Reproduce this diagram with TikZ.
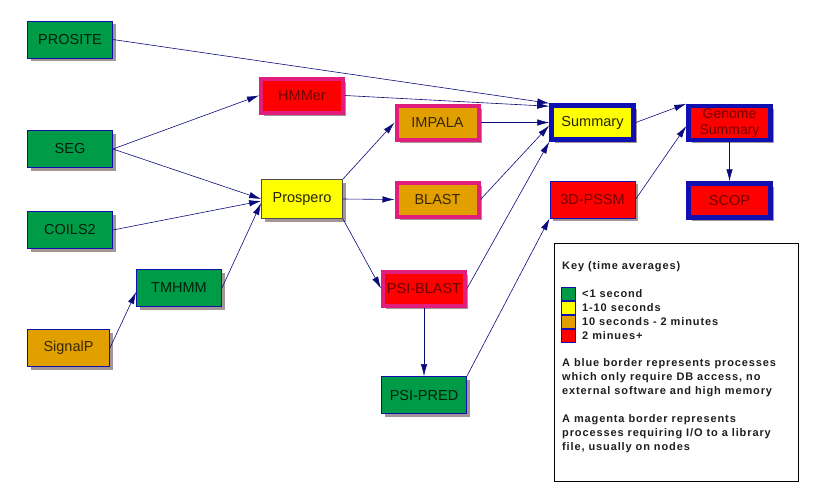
\documentclass[tikz,border=0pt]{standalone}
\usepackage{fontspec}
\setmainfont{Liberation Sans}
\newfontfamily\keyfont[LetterSpace=8]{Liberation Sans}
\usetikzlibrary{arrows.meta,shadows}

\definecolor{fastgreen}{RGB}{0,155,70}
\definecolor{midyellow}{RGB}{255,255,0}
\definecolor{slowamber}{RGB}{225,160,0}
\definecolor{slowred}{RGB}{255,0,0}
\definecolor{dbblue}{RGB}{16,16,176}
\definecolor{libmagenta}{RGB}{225,30,125}
\definecolor{edgeblue}{RGB}{10,10,125}
\definecolor{shadowgrey}{RGB}{165,150,150}
\definecolor{keyink}{RGB}{30,30,30}

\tikzset{
  proc/.style={draw=dbblue, line width=0.8pt, minimum width=85pt, minimum height=37pt,
    inner sep=1pt, align=center, font=\fontsize{14.5}{16}\selectfont,
    drop shadow={shadow xshift=3pt, shadow yshift=-3pt, fill=shadowgrey, opacity=1}},
  dbproc/.style={proc, line width=4.5pt, minimum width=82pt, minimum height=34pt},
  libproc/.style={proc, draw=libmagenta, line width=4pt, minimum width=82pt, minimum height=34pt},
  secs/.style={fill=fastgreen, text=fastgreen!20!black},
  tens/.style={fill=midyellow, text=midyellow!15!black},
  mins/.style={fill=slowamber, text=slowamber!25!black},
  long/.style={fill=slowred, text=slowred!45!black},
  flow/.style={draw=edgeblue, line width=0.6pt, -{Latex[length=12pt,width=6.5pt]}},
  keybox/.style={draw=black, line width=0.8pt, minimum width=244pt, minimum height=238pt},
  keytext/.style={font=\fontsize{11}{14}\keyfont\bfseries\selectfont, text=keyink,
    inner sep=0pt, align=left},
  swatch/.style={draw=dbblue, line width=0.6pt, minimum width=14pt, minimum height=13.5pt, inner sep=0pt}
}

\begin{document}
\begin{tikzpicture}[x=1pt, y=-1pt]
\useasboundingbox (0,0) rectangle (821,496);
%
% inputs on the left
\node[proc, secs] (prosite) at (70,39.5) {PROSITE};
\node[proc, secs] (seg) at (70,149) {SEG};
\node[proc, secs] (coils) at (70,230) {COILS2};
\node[proc, mins, minimum width=82pt] (signalp) at (68.5,348) {SignalP};
\node[proc, secs] (tmhmm) at (179,288) {TMHMM};
%
% middle column
\node[libproc, long] (hmmer) at (302,95.5) {HMMer};
\node[proc, tens, draw=black!70, minimum width=81pt, minimum height=39pt] (prospero) at (302,199) {Prospero};
\node[libproc, mins] (impala) at (437.5,122.5) {IMPALA};
\node[libproc, mins] (blast) at (437.5,199.5) {BLAST};
\node[libproc, long] (psiblast) at (424,288.5) {PSI-BLAST};
\node[proc, secs] (psipred) at (424,395) {PSI-PRED};
%
% summaries on the right
\node[dbproc, tens] (summary) at (592.5,122.5) {Summary};
\node[proc, long] (pssm) at (592.5,199.5) {3D-PSSM};
\node[dbproc, long, font=\fontsize{14}{15.5}\selectfont] (genome) at (729.5,123) {Genome\\Summary};
\node[dbproc, long] (scop) at (729.5,200.5) {SCOP};
%
\draw[flow] (prosite.east) -- (summary.north west);
\draw[flow] (hmmer.east) -- ([yshift=-3pt]summary.north west);
\draw[flow] (seg.east) -- (hmmer.west);
\draw[flow] (seg.east) -- (prospero.west);
\draw[flow] (coils.east) -- ([yshift=-2pt]prospero.west);
\draw[flow] (tmhmm.east) -- ([yshift=-4pt]prospero.west);
\draw[flow] (signalp.east) -- ([yshift=-4pt]tmhmm.west);
\draw[flow] (prospero.north east) -- (impala.west);
\draw[flow] (prospero.east) -- (blast.west);
\draw[flow] (prospero.south east) -- (psiblast.west);
\draw[flow] (impala.east) -- (summary.west);
\draw[flow] (blast.east) -- ([yshift=-3pt]summary.west);
\draw[flow] (psiblast.east) -- (summary.south west);
\draw[flow] (psiblast.south) -- (psipred.north);
\draw[flow] (psipred.north east) -- (pssm.south west);
\draw[flow] (summary.east) -- (genome.north west);
\draw[flow] (pssm.east) -- ([yshift=-3pt]genome.west);
\draw[flow] (genome.south) -- (scop.north);
%
% key
\node[keybox] (key) at (676.5,362.5) {};
\node[keytext, anchor=west] (keytitle) at (562,267) {Key (time averages)};
\foreach \col/\lab [count=\i] in {fastgreen/{<1 second}, midyellow/{1-10 seconds},
    slowamber/{10 seconds - 2 minutes}, slowred/{2 minues+}} {
  \node[swatch, fill=\col] (sw\i) at (568,280+14*\i) {};
  \node[keytext, anchor=west] (lab\i) at (582,280+14*\i) {\lab};
}
\node[keytext, anchor=west] (bluenote) at (562,378) {A blue border represents processes\\which only require DB access, no\\external software and high memory};
\node[keytext, anchor=west] (magnote) at (562,434) {A magenta border represents\\processes requiring I/O to a library\\file, usually on nodes};
\end{tikzpicture}
\end{document}
